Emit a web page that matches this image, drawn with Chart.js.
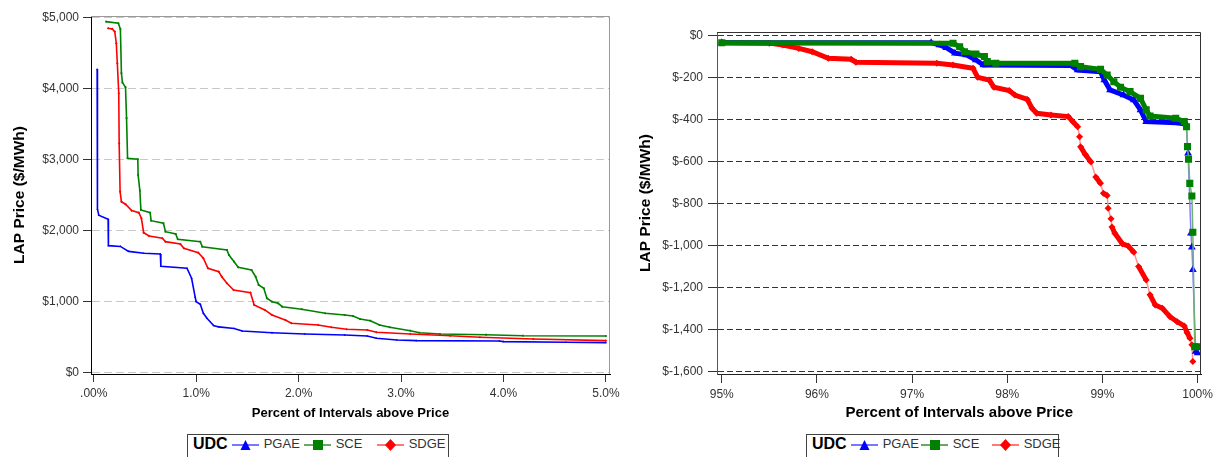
<!DOCTYPE html>
<html>
<head>
<meta charset="utf-8">
<title>LAP Price duration curves</title>
<script src="https://cdn.jsdelivr.net/npm/chart.js@4.4.1/dist/chart.umd.min.js"></script>
<style>
  body { margin: 0; background: #fff; width: 1217px; height: 457px; overflow: hidden; position: relative;
         font-family: "Liberation Sans", Arial, sans-serif; }
  canvas { position: absolute; top: 0; }
  #leftChart { left: 0; }
  #rightChart { left: 630px; }
  .legend { position: absolute; top: 434px; height: 30px; border: 1px solid #444; box-sizing: border-box;
            display: flex; align-items: flex-start; white-space: nowrap; color: #333; font-size: 13px; line-height: 18px; }
  .legend b { font-size: 16px; color: #000; margin: 0 4px 0 5px; }
  .legend .item { display: flex; align-items: center; height: 18px; }
  .legend svg { margin-right: 5px; }
  .legend .w1 { width: 40px; }
  .legend .w2 { width: 41px; }
</style>
</head>
<body>
<canvas id="leftChart" width="625" height="430"></canvas>
<canvas id="rightChart" width="587" height="430"></canvas>

<div class="legend" style="left:187px; width:262px;">
  <b>UDC</b>
  <span class="item"><svg width="27" height="14"><line x1="0" y1="8" x2="27" y2="8" stroke="#7777ff" stroke-width="2"/><polygon points="8.5,13 18.5,13 13.5,3" fill="#0000ff"/></svg><span class="w1">PGAE</span></span>
  <span class="item"><svg width="27" height="14"><line x1="0" y1="8" x2="27" y2="8" stroke="#66aa66" stroke-width="2"/><rect x="9" y="3" width="10" height="10" fill="#008000"/></svg><span class="w2">SCE</span></span>
  <span class="item"><svg width="27" height="14"><line x1="0" y1="8" x2="27" y2="8" stroke="#ff7777" stroke-width="2"/><polygon points="13.5,2 19,8 13.5,14 8,8" fill="#ff0000"/></svg><span>SDGE</span></span>
</div>
<div class="legend" style="left:806px; width:253px;">
  <b>UDC</b>
  <span class="item"><svg width="27" height="14"><line x1="0" y1="8" x2="27" y2="8" stroke="#7777ff" stroke-width="2"/><polygon points="8.5,13 18.5,13 13.5,3" fill="#0000ff"/></svg><span style="width:38px">PGAE</span></span>
  <span class="item"><svg width="27" height="14"><line x1="0" y1="8" x2="27" y2="8" stroke="#66aa66" stroke-width="2"/><rect x="9" y="3" width="10" height="10" fill="#008000"/></svg><span style="width:39px">SCE</span></span>
  <span class="item"><svg width="27" height="14"><line x1="0" y1="8" x2="27" y2="8" stroke="#ff7777" stroke-width="2"/><polygon points="13.5,2 19,8 13.5,14 8,8" fill="#ff0000"/></svg><span>SDGE</span></span>
</div>

<script>
// left panel: top 5% of intervals (percent of intervals above price, $/MWh)
const pgaeTopPct = [0.033, 0.036, 0.049, 0.14, 0.143, 0.26, 0.34, 0.49, 0.65, 0.655, 0.91, 0.955, 0.99, 1.0, 1.04, 1.07, 1.105, 1.17, 1.22, 1.37, 1.45, 1.74, 2.06, 2.45, 2.67, 2.76, 2.96, 3.15, 3.96, 4.0, 4.61, 5.0];
const pgaeTopPrice = [4273, 2300, 2214, 2158, 1786, 1775, 1705, 1678, 1668, 1495, 1467, 1326, 1060, 996, 960, 832, 762, 660, 640, 618, 582, 558, 540, 526, 512, 480, 456, 446, 441, 432, 423, 418];

const sceTopPct = [0.12, 0.24, 0.26, 0.27, 0.28, 0.31, 0.32, 0.33, 0.43, 0.433, 0.45, 0.46, 0.55, 0.56, 0.68, 0.70, 0.80, 0.82, 1.04, 1.06, 1.30, 1.32, 1.37, 1.41, 1.54, 1.58, 1.61, 1.66, 1.69, 1.74, 1.80, 1.84, 2.03, 2.26, 2.45, 2.53, 2.60, 2.70, 2.79, 2.89, 3.09, 3.18, 3.38, 3.83, 4.19, 5.0];
const sceTopPrice = [4945, 4922, 4838, 4217, 4085, 4020, 3583, 3018, 3004, 2783, 2562, 2290, 2251, 2138, 2101, 1983, 1950, 1876, 1842, 1771, 1725, 1654, 1560, 1481, 1443, 1348, 1231, 1185, 1044, 996, 973, 925, 889, 832, 808, 794, 752, 728, 667, 635, 587, 558, 540, 530, 516, 512];

const sdgeTopPct = [0.14, 0.18, 0.205, 0.22, 0.23, 0.244, 0.248, 0.257, 0.27, 0.31, 0.37, 0.44, 0.465, 0.487, 0.54, 0.67, 0.70, 0.845, 0.88, 1.02, 1.07, 1.115, 1.22, 1.25, 1.30, 1.365, 1.53, 1.566, 1.67, 1.74, 1.87, 1.93, 2.19, 2.32, 2.47, 2.67, 2.76, 3.09, 3.48, 3.77, 4.29, 5.0];
const sdgeTopPrice = [4852, 4842, 4804, 4640, 4358, 3935, 3230, 2547, 2406, 2370, 2280, 2251, 2172, 1969, 1922, 1890, 1842, 1810, 1749, 1687, 1608, 1467, 1419, 1348, 1255, 1161, 1123, 949, 879, 808, 738, 691, 667, 635, 606, 597, 564, 540, 516, 494, 470, 446];

const topXTicks = [0, 1, 2, 3, 4, 5];
const topXTickLabels = ['.00%', '1.0%', '2.0%', '3.0%', '4.0%', '5.0%'];
const topYTicks = [0, 1000, 2000, 3000, 4000, 5000];
const topYTickLabels = ['$0', '$1,000', '$2,000', '$3,000', '$4,000', '$5,000'];

// right panel: bottom 5% of intervals
const pgaeLowPct = [95.0, 97.2, 97.29, 97.36, 97.45, 97.57, 97.67, 97.75, 98.67, 98.74, 98.98, 99.02, 99.08, 99.22, 99.33, 99.40, 99.46, 99.77, 99.88, 99.90, 99.93, 99.94, 99.95, 99.98, 100.0];
const pgaeLowPrice = [-32, -32, -43, -56, -82, -90, -114, -138, -141, -162, -170, -210, -257, -281, -305, -352, -408, -413, -419, -559, -940, -1006, -1114, -1503, -1510];

const sceLowPct = [95.0, 97.43, 97.50, 97.55, 97.67, 97.76, 97.79, 97.88, 98.71, 98.77, 98.98, 99.05, 99.12, 99.19, 99.29, 99.40, 99.46, 99.50, 99.77, 99.86, 99.884, 99.894, 99.905, 99.918, 99.94, 99.95, 99.97, 99.99];
const sceLowPrice = [-32, -35, -51, -75, -86, -98, -122, -130, -130, -146, -159, -186, -218, -244, -265, -297, -352, -381, -392, -408, -432, -527, -587, -702, -762, -935, -1480, -1480];

const sdgeLowPct = [95.0, 95.5, 95.64, 95.81, 95.95, 96.12, 96.36, 96.41, 97.26, 97.43, 97.64, 97.69, 97.81, 97.86, 98.02, 98.08, 98.21, 98.26, 98.31, 98.46, 98.64, 98.69, 98.74, 98.76, 98.77, 98.82, 98.88, 98.93, 98.98, 99.01, 99.05, 99.06, 99.09, 99.10, 99.13, 99.21, 99.27, 99.33, 99.38, 99.46, 99.50, 99.555, 99.63, 99.71, 99.785, 99.86, 99.89, 99.92, 99.94, 99.95];
const sdgeLowPrice = [-32, -34, -43, -59, -75, -106, -111, -125, -130, -138, -154, -197, -210, -244, -260, -281, -302, -344, -368, -376, -384, -408, -432, -480, -527, -565, -600, -672, -702, -749, -760, -821, -870, -910, -940, -990, -1000, -1030, -1098, -1162, -1233, -1281, -1297, -1337, -1361, -1381, -1413, -1440, -1471, -1551];

const lowXTicks = [95, 96, 97, 98, 99, 100];
const lowXTickLabels = ['95%', '96%', '97%', '98%', '99%', '100%'];
const lowYTicks = [0, -200, -400, -600, -800, -1000, -1200, -1400, -1600];
const lowYTickLabels = ['$0', '$-200', '$-400', '$-600', '$-800', '$-1,000', '$-1,200', '$-1,400', '$-1,600'];

Chart.defaults.font.family = '"Liberation Sans", Arial, sans-serif';
Chart.defaults.color = '#333';

// draws the plot frame sides that the axes don't cover
const framePlugin = {
    id: 'frame',
    afterDatasetsDraw(chart, args, opts) {
        const { ctx, chartArea: a } = chart;
        const top = Math.round(a.top) + 0.5;
        const right = Math.round(a.right) - 0.5;
        ctx.save();
        ctx.strokeStyle = opts.color;
        ctx.lineWidth = 1;
        ctx.beginPath();
        ctx.moveTo(a.left, top);
        ctx.lineTo(right, top);
        ctx.lineTo(right, a.bottom);
        ctx.stroke();
        ctx.restore();
    }
};

function points(xs, ys) {
    return xs.map((x, i) => ({ x: x, y: ys[i] }));
}

function topSet(label, xs, ys, color, style, order) {
    return {
        label: label,
        data: points(xs, ys),
        borderColor: color,
        backgroundColor: color,
        borderWidth: 1.6,
        pointRadius: 1.3,
        pointBorderWidth: 0,
        pointStyle: style,
        order: order
    };
}

function isSteep(c) {
    return Math.abs(c.p1.y - c.p0.y) > 2.5 * Math.abs(c.p1.x - c.p0.x);
}

function lowSet(label, xs, ys, color, light, style, radius, order) {
    return {
        label: label,
        data: points(xs, ys),
        borderColor: color,
        backgroundColor: color,
        borderWidth: 5,
        pointRadius: radius,
        pointBorderWidth: 0,
        pointStyle: style,
        order: order,
        segment: {
            borderWidth: c => isSteep(c) ? 1.5 : 5,
            borderColor: c => isSteep(c) ? light : color
        }
    };
}

function axisTitle(text, size) {
    return { display: true, text: text, color: '#000', font: { size: size, weight: 'bold' }, padding: { top: 4, bottom: 4 } };
}

new Chart(document.getElementById('leftChart'), {
    type: 'line',
    data: {
        datasets: [
            topSet('PGAE', pgaeTopPct, pgaeTopPrice, '#0000ff', 'triangle', 2),
            topSet('SCE', sceTopPct, sceTopPrice, '#008000', 'rect', 1),
            topSet('SDGE', sdgeTopPct, sdgeTopPrice, '#ff0000', 'rectRot', 0)
        ]
    },
    plugins: [framePlugin],
    options: {
        responsive: false,
        animation: false,
        layout: { padding: { left: 6, top: 16, right: 15, bottom: 5 } },
        elements: { line: { tension: 0 } },
        plugins: {
            legend: { display: false },
            tooltip: { enabled: false },
            frame: { color: '#999' }
        },
        scales: {
            x: {
                type: 'linear',
                min: -0.027,
                max: 5.04,
                afterBuildTicks: s => { s.ticks = topXTicks.map(v => ({ value: v })); },
                afterFit: s => { s.height = 51; },
                ticks: { callback: (v, i) => topXTickLabels[i], font: { size: 12 }, padding: 4, maxRotation: 0, autoSkip: false },
                grid: { drawOnChartArea: false, tickLength: 8, tickColor: '#333' },
                border: { color: '#000' },
                title: axisTitle('Percent of Intervals above Price', 13)
            },
            y: {
                type: 'linear',
                min: -24,
                max: 5024,
                afterBuildTicks: s => { s.ticks = topYTicks.map(v => ({ value: v })); },
                afterFit: s => { s.width = 85; },
                ticks: { callback: (v, i) => topYTickLabels[i], font: { size: 12 }, padding: 4 },
                grid: { color: '#c8c8c8', tickLength: 8, tickColor: '#333' },
                border: { color: '#000', dash: [8, 4] },
                title: axisTitle('LAP Price ($/MWh)', 15.5)
            }
        }
    }
});

new Chart(document.getElementById('rightChart'), {
    type: 'line',
    data: {
        datasets: [
            lowSet('PGAE', pgaeLowPct, pgaeLowPrice, '#0000ff', '#8080ff', 'triangle', 4.5, 1),
            lowSet('SCE', sceLowPct, sceLowPrice, '#008000', '#70b070', 'rect', 5, 0),
            lowSet('SDGE', sdgeLowPct, sdgeLowPrice, '#ff0000', '#ff9090', 'rectRot', 3.5, 2)
        ]
    },
    plugins: [framePlugin],
    options: {
        responsive: false,
        animation: false,
        layout: { padding: { left: 2, top: 32, right: 8, bottom: 4 } },
        elements: { line: { tension: 0 } },
        plugins: {
            legend: { display: false },
            tooltip: { enabled: false },
            frame: { color: '#333' }
        },
        scales: {
            x: {
                type: 'linear',
                min: 94.95,
                max: 100.04,
                afterBuildTicks: s => { s.ticks = lowXTicks.map(v => ({ value: v })); },
                afterFit: s => { s.height = 52; },
                ticks: { callback: (v, i) => lowXTickLabels[i], font: { size: 12 }, padding: 4, maxRotation: 0, autoSkip: false },
                grid: { drawOnChartArea: false, tickLength: 9, tickColor: '#333' },
                border: { color: '#222' },
                title: axisTitle('Percent of Intervals above Price', 15)
            },
            y: {
                type: 'linear',
                min: -1610,
                max: 19,
                afterBuildTicks: s => { s.ticks = lowYTicks.map(v => ({ value: v })); },
                afterFit: s => { s.width = 85; },
                ticks: { callback: (v, i) => lowYTickLabels[i], font: { size: 12 }, padding: 5 },
                grid: { color: '#333', tickLength: 9, tickColor: '#333' },
                border: { color: '#555', dash: [6, 3] },
                title: axisTitle('LAP Price ($/MWh)', 15.5)
            }
        }
    }
});
</script>
</body>
</html>
